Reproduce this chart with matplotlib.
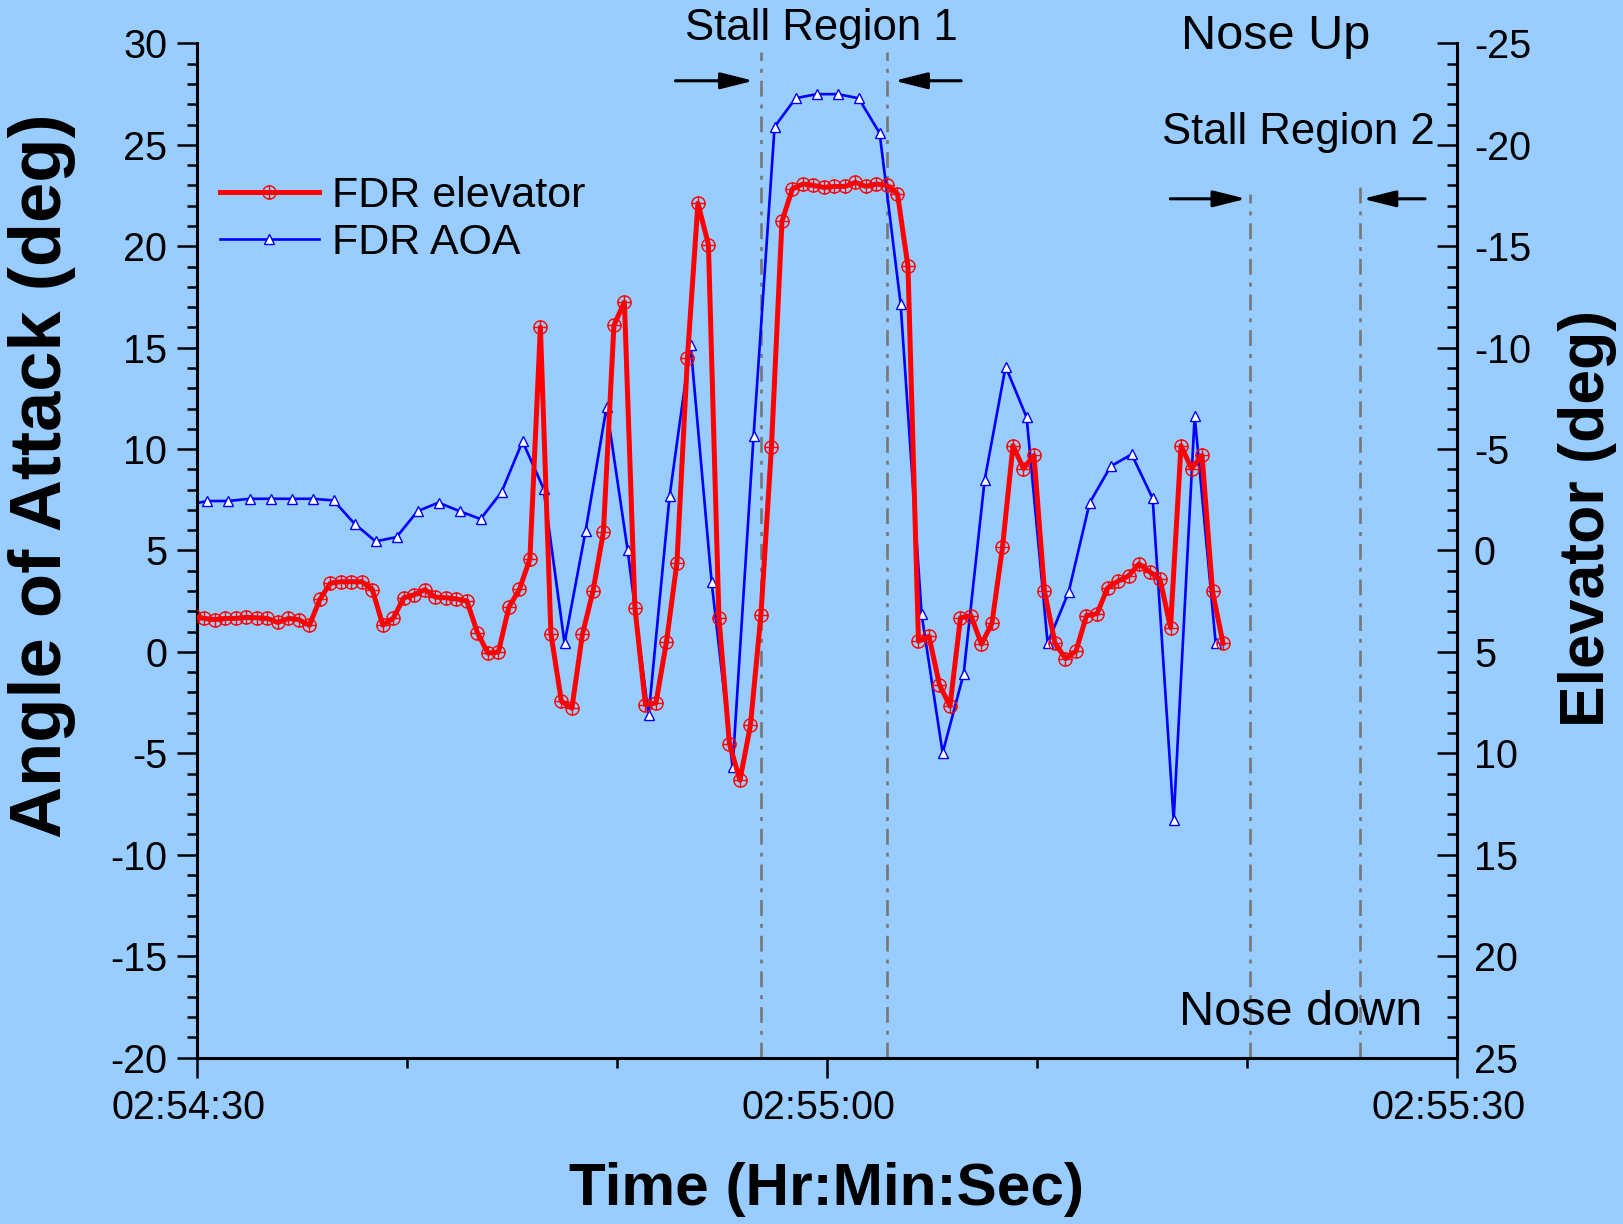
import matplotlib
matplotlib.use("Agg")
import matplotlib.pyplot as plt
import matplotlib.transforms as mtransforms
from matplotlib.path import Path
from matplotlib.ticker import MultipleLocator, FuncFormatter

plt.rcParams['font.family'] = ['Liberation Sans', 'DejaVu Sans']
plt.rcParams['axes.unicode_minus'] = False

BG = '#99CCFF'

# time in seconds after 02:54:30
elev_time = [-0.15, 0.35, 0.85, 1.35, 1.85, 2.35, 2.85, 3.35, 3.85, 4.35, 4.85,
             5.35, 5.85, 6.35, 6.85, 7.35, 7.85, 8.35, 8.85, 9.35, 9.85,
             10.35, 10.85, 11.35, 11.85, 12.35, 12.85, 13.35, 13.85, 14.35, 14.85,
             15.35, 15.85, 16.35, 16.85, 17.35, 17.85, 18.35, 18.85, 19.35, 19.85,
             20.35, 20.85, 21.35, 21.85, 22.35, 22.85, 23.35, 23.85, 24.35, 24.85,
             25.35, 25.85, 26.35, 26.85, 27.35, 27.85, 28.35, 28.85, 29.35, 29.85,
             30.35, 30.85, 31.35, 31.85, 32.35, 32.85, 33.35, 33.85, 34.35, 34.85,
             35.35, 35.85, 36.35, 36.85, 37.35, 37.85, 38.35, 38.85, 39.35, 39.85,
             40.35, 40.85, 41.35, 41.85, 42.35, 42.85, 43.35, 43.85, 44.35, 44.85,
             45.35, 45.85, 46.35, 46.85, 47.35, 47.85, 48.35, 48.85]
# elevator, deg (right axis, negative = nose up)
elev_deg = [3.25, 3.35, 3.41, 3.35, 3.35, 3.30, 3.32, 3.35, 3.55, 3.35, 3.41,
            3.69, 2.41, 1.61, 1.54, 1.54, 1.54, 1.93, 3.69, 3.33, 2.33,
            2.18, 1.93, 2.30, 2.33, 2.39, 2.49, 4.05, 5.06, 5.01, 2.79,
            1.92, 0.41, -11.02, 4.10, 7.44, 7.77, 4.14, 2.02, -0.91, -11.10,
            -12.25, 2.82, 7.60, 7.52, 4.52, 0.60, -9.49, -17.12, -15.08, 3.32,
            9.53, 11.33, 8.62, 3.17, -5.09, -16.23, -17.84, -18.07, -18.00, -17.90,
            -17.95, -17.95, -18.15, -17.95, -18.07, -18.00, -17.59, -14.01, 4.47, 4.23,
            6.62, 7.67, 3.32, 3.21, 4.62, 3.58, -0.16, -5.17, -4.04, -4.69,
            2.02, 4.57, 5.33, 4.96, 3.21, 3.12, 1.85, 1.51, 1.25, 0.66,
            1.05, 1.42, 3.80, -5.17, -4.04, -4.69, 2.02, 4.57]

aoa_time = [-0.5, 0.5, 1.5, 2.5, 3.5, 4.5, 5.5, 6.5, 7.5, 8.5,
            9.5, 10.5, 11.5, 12.5, 13.5, 14.5, 15.5, 16.5, 17.5, 18.5,
            19.5, 20.5, 21.5, 22.5, 23.5, 24.5, 25.5, 26.5, 27.5, 28.5,
            29.5, 30.5, 31.5, 32.5, 33.5, 34.5, 35.5, 36.5, 37.5, 38.5,
            39.5, 40.5, 41.5, 42.5, 43.5, 44.5, 45.5, 46.5, 47.5, 48.5]
aoa_deg = [7.24, 7.44, 7.44, 7.55, 7.55, 7.55, 7.55, 7.47, 6.32, 5.45,
           5.66, 6.94, 7.36, 6.94, 6.55, 7.88, 10.38, 8.05, 0.43, 5.96,
           12.07, 5.04, -3.13, 7.67, 15.15, 3.46, -5.68, 10.66, 25.89, 27.30,
           27.50, 27.50, 27.30, 25.58, 17.17, 1.85, -4.98, -1.09, 8.47, 14.07,
           11.56, 0.43, 2.95, 7.35, 9.15, 9.74, 7.57, -8.28, 11.64, 0.43]

# stall region boundaries (s) and how high the marker lines reach (AOA deg)
stall_bounds = [26.87, 32.84, 50.15, 55.37]
stall_tops = [29.6, 29.6, 22.6, 22.9]


def hms(x, pos):
    s = int(round(2 * 3600 + 54 * 60 + 30 + x))
    return f"{s // 3600:02d}:{s % 3600 // 60:02d}:{s % 60:02d}"


# circle with a cross inside for the elevator markers
oplus = Path.make_compound_path(
    Path.unit_circle(),
    Path([(-1, 0), (1, 0), (0, -1), (0, 1)],
         [Path.MOVETO, Path.LINETO, Path.MOVETO, Path.LINETO]))

fig = plt.figure(figsize=(16.24, 12.24), dpi=100, facecolor=BG)
ax = fig.add_axes([0.1213, 0.136, 0.776, 0.8285])
ax.set_facecolor(BG)

for t, top in zip(stall_bounds, stall_tops):
    ax.plot([t, t], [-20, top], color='#777777', lw=1.9,
            dashes=(6, 3, 1.5, 3), zorder=1)

aoa_line, = ax.plot(aoa_time, aoa_deg, color='#0000FF', lw=1.9, marker='^',
                    ms=7.5, mfc='white', mec='#0000FF', mew=1.0, label='FDR AOA',
                    zorder=2)
ax.set_xlim(0, 60)
ax.set_ylim(-20, 30)

ax2 = ax.twinx()
elev_line, = ax2.plot(elev_time, elev_deg, color='#FF0000', lw=3.6,
                      marker=oplus, ms=9.5, mfc='none', mec='#FF0000', mew=1.0,
                      label='FDR elevator')
ax2.set_ylim(25, -25)

# axes styling
ax.spines['top'].set_visible(False)
ax.spines['right'].set_visible(False)
ax2.spines['top'].set_visible(False)
ax2.spines['left'].set_visible(False)
ax2.spines['bottom'].set_visible(False)
for sp in ['left', 'bottom']:
    ax.spines[sp].set_linewidth(2.2)
ax2.spines['right'].set_linewidth(2.2)

ax.xaxis.set_major_locator(MultipleLocator(30))
ax.xaxis.set_minor_locator(MultipleLocator(10))
ax.xaxis.set_major_formatter(FuncFormatter(hms))
ax.yaxis.set_major_locator(MultipleLocator(5))
ax.yaxis.set_minor_locator(MultipleLocator(1))
ax2.yaxis.set_major_locator(MultipleLocator(5))
ax2.yaxis.set_minor_locator(MultipleLocator(1))

ax.tick_params(which='major', direction='out', length=14.5, width=1.8,
               labelsize=28.5, pad=8)
ax.tick_params(axis='y', which='major', pad=7)
ax.tick_params(which='minor', direction='out', length=7, width=1.8)
ax2.tick_params(axis='y', which='major', direction='in', length=14.5,
                width=1.8, labelsize=28.5, pad=12)
ax2.tick_params(axis='y', which='minor', direction='in', length=7, width=1.8)

# time labels sit a little left of their ticks in the original
shift = mtransforms.ScaledTranslation(-6 / 72, 0, fig.dpi_scale_trans)
for tick in ax.xaxis.get_major_ticks():
    tick.label1.set_transform(tick.label1.get_transform() + shift)

ax.set_xlabel('Time (Hr:Min:Sec)', fontsize=43.5, fontweight='bold', va='center')
ax.xaxis.set_label_coords(0.4996, -0.13)
ax.set_ylabel('Angle of Attack (deg)', fontsize=52, fontweight='bold', va='center')
ax.yaxis.set_label_coords(-0.123, 0.574)
ax2.set_ylabel('Elevator (deg)', fontsize=45, fontweight='bold', va='center',
               rotation=90)
ax2.yaxis.set_label_coords(1.1036, 0.532)

# annotations
txt = dict(ha='center', va='center', clip_on=False)
ax.text(29.73, 30.72, 'Stall Region 1', fontsize=31.5, **txt)
ax.text(51.37, 30.36, 'Nose Up', fontsize=35, **txt)
ax.text(52.46, 25.6, 'Stall Region 2', fontsize=31.5, **txt)
ax.text(52.56, -17.8, 'Nose down', fontsize=35, **txt)

arr = dict(arrowstyle='-|>,head_length=0.8,head_width=0.2', color='black',
           lw=2.2, mutation_scale=25, shrinkA=0, shrinkB=0)
ax.annotate('', xy=(26.5, 28.16), xytext=(22.78, 28.16), arrowprops=arr)
ax.annotate('', xy=(33.2, 28.16), xytext=(36.38, 28.16), arrowprops=arr)
ax.annotate('', xy=(49.95, 22.34), xytext=(46.34, 22.34), arrowprops=arr)
ax.annotate('', xy=(55.5, 22.34), xytext=(58.47, 22.34), arrowprops=arr)

ax2.legend(handles=[elev_line, aoa_line], loc='upper left',
           bbox_to_anchor=(0.018, 0.869), frameon=False, fontsize=31,
           handlelength=2.3, handletextpad=0.3, labelspacing=0.15,
           borderpad=0, borderaxespad=0)

fig.savefig('out.png', dpi=100, facecolor=BG)
